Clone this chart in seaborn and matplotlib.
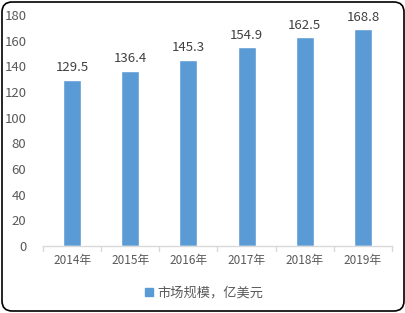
import matplotlib
matplotlib.use("Agg")
import matplotlib.pyplot as plt
import seaborn as sns
import pandas as pd
from matplotlib.patches import FancyBboxPatch, Patch

years = ["2014年", "2015年", "2016年", "2017年", "2018年", "2019年"]
values = [129.5, 136.4, 145.3, 154.9, 162.5, 168.8]
series_name = "市场规模，亿美元"

sns.set_theme(style="white")
plt.rcParams['font.family'] = ['Noto Sans CJK SC', 'DejaVu Sans']

df = pd.DataFrame({"year": years, "value": values})
color = "#5B9BD5"
text_color = "#595959"

fig = plt.figure(figsize=(4.06, 3.13), dpi=100)
ax = fig.add_axes([43/406, 1-246/313, (392-43)/406, (246-15)/313])
sns.barplot(data=df, x="year", y="value", color=color, width=0.31,
            saturation=1, ax=ax)
ax.set_ylim(0, 180)
ax.set_yticks(range(0, 181, 20))
ax.set_xlim(-0.5, 5.5)
ax.set_xlabel("")
ax.set_ylabel("")
for s in ["top", "right", "left"]:
    ax.spines[s].set_visible(False)
ax.spines["bottom"].set_color("#D9D9D9")
ax.spines["bottom"].set_linewidth(1)
ax.set_xticks([i for i in range(6)])
ax.set_xticklabels(years)
ax.tick_params(axis="x", length=0, labelsize=8.5, colors=text_color, pad=6)
ax.tick_params(axis="y", length=0, labelsize=9.5, colors=text_color, pad=12)
for b in [i - 0.5 for i in range(7)]:
    ax.plot([b, b], [0, -4], color="#D9D9D9", lw=1, clip_on=False,
            transform=ax.transData)
for c in ax.containers:
    ax.bar_label(c, labels=[f"{v:.1f}" for v in values], padding=4,
                 fontsize=9.5, color="#404040")

handles = [Patch(facecolor=color, edgecolor=color)]
fig.legend(handles, [series_name], loc="center", bbox_to_anchor=(204/406, 1-293/313),
           frameon=False, fontsize=9.5, labelcolor=text_color,
           handlelength=0.6, handleheight=0.6, handletextpad=0.3)

border = FancyBboxPatch((2/406, 2/313), 402/406, 309/313,
                        boxstyle="round,pad=0,rounding_size=0.025",
                        transform=fig.transFigure, fill=False,
                        edgecolor="black", lw=1.2, mutation_aspect=406/313)
fig.patches.append(border)

fig.savefig("out.png", dpi=100)
